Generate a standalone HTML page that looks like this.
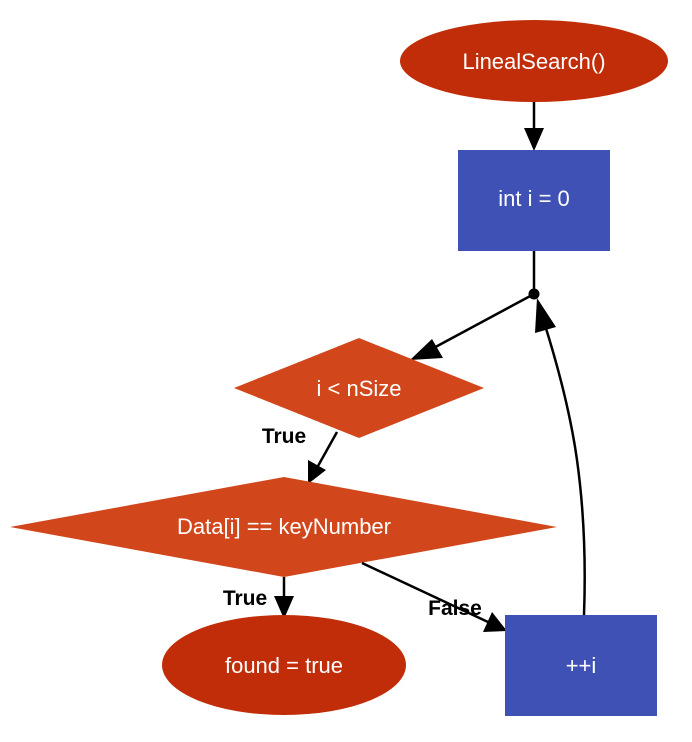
<!DOCTYPE html>
<html><head><meta charset="utf-8"><style>
html,body{margin:0;padding:0;background:#fff;}
svg{display:block;}
text{font-family:"Liberation Sans",sans-serif;}
</style></head><body>
<svg width="692" height="742" viewBox="0 0 692 742" xmlns="http://www.w3.org/2000/svg">
<ellipse cx="534" cy="61" rx="134" ry="41" fill="#c12d08"/>
<text x="534" y="69" font-size="22" fill="#fff" text-anchor="middle">LinealSearch()</text>
<line x1="534" y1="102" x2="534" y2="130" stroke="#000" stroke-width="2.5"/>
<polygon points="524,128 544,128 534,151" fill="#000"/>
<rect x="458" y="150" width="152" height="101" fill="#3f51b5"/>
<text x="534" y="206" font-size="22" fill="#fff" text-anchor="middle">int i = 0</text>
<line x1="534" y1="251" x2="534" y2="294" stroke="#000" stroke-width="2.5"/>
<circle cx="534" cy="294" r="5.5" fill="#000"/>
<line x1="534" y1="294" x2="428" y2="351" stroke="#000" stroke-width="2.5"/>
<polygon points="410,360 432,339 443,358" fill="#000"/>
<polygon points="234,388 359,338 484,388 359,438" fill="#d2461c"/>
<text x="359" y="396" font-size="22" fill="#fff" text-anchor="middle">i &lt; nSize</text>
<text x="284" y="443" font-size="21" font-weight="bold" fill="#000" text-anchor="middle">True</text>
<line x1="337" y1="432" x2="318" y2="466" stroke="#000" stroke-width="2.5"/>
<polygon points="308,484 308,460 326,470" fill="#000"/>
<polygon points="10,527 284,477 557,527 284,577" fill="#d2461c"/>
<text x="284" y="534" font-size="22" fill="#fff" text-anchor="middle">Data[i] == keyNumber</text>
<line x1="284" y1="577" x2="284" y2="598" stroke="#000" stroke-width="2.5"/>
<polygon points="274,596 294,596 284,619" fill="#000"/>
<text x="245" y="605" font-size="21" font-weight="bold" fill="#000" text-anchor="middle">True</text>
<ellipse cx="284" cy="665" rx="122" ry="50" fill="#c12d08"/>
<text x="284" y="673" font-size="22" fill="#fff" text-anchor="middle">found = true</text>
<line x1="362" y1="563" x2="488" y2="622" stroke="#000" stroke-width="2.5"/>
<polygon points="507,631 483,632 492,612" fill="#000"/>
<text x="455" y="615" font-size="21" font-weight="bold" fill="#000" text-anchor="middle">False</text>
<rect x="505" y="615" width="152" height="101" fill="#3f51b5"/>
<text x="581" y="673" font-size="22" fill="#fff" text-anchor="middle">++i</text>
<path d="M584,615 C586,560 584,510 577,460 C570,410 556,360 544,322" fill="none" stroke="#000" stroke-width="2.5"/>
<polygon points="537,298 556,327 535,333" fill="#000"/>
</svg>
</body></html>
